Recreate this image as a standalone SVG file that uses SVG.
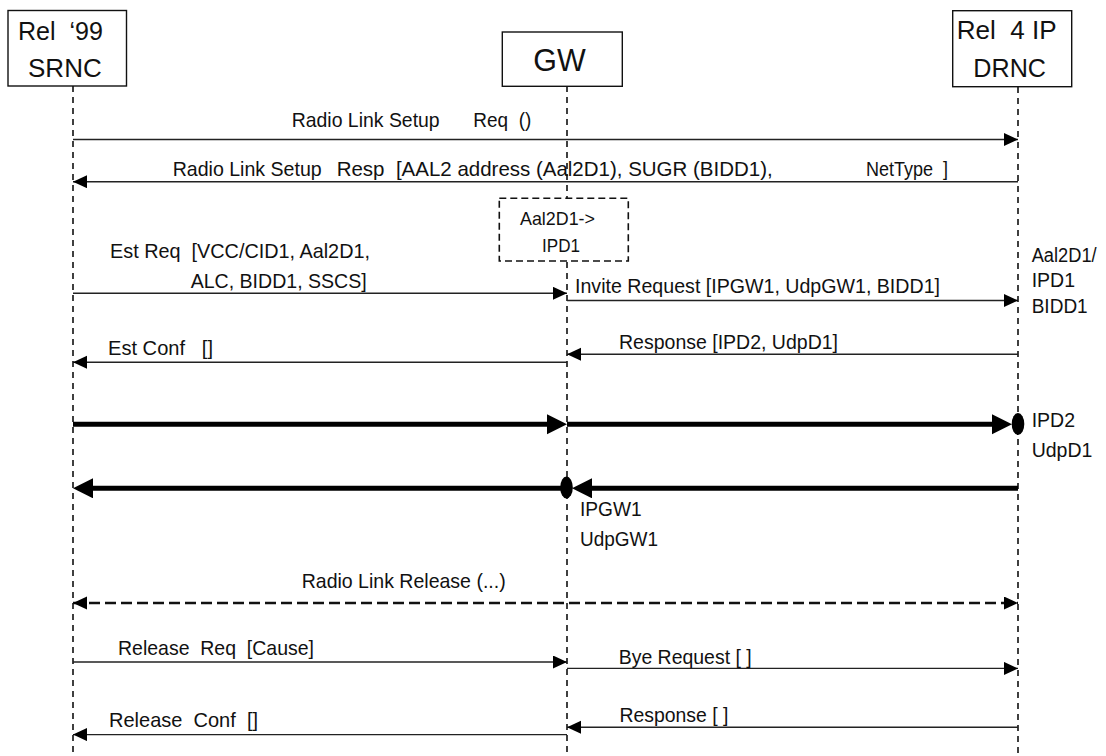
<svg xmlns="http://www.w3.org/2000/svg" width="1106" height="756" viewBox="0 0 1106 756">
<style>
text{font-family:"Liberation Sans",Arial,sans-serif;fill:#111;white-space:pre}
.hd{font-size:25.5px}
.gw{font-size:30.5px}
.msg{font-size:20.6px}
.lab{font-size:19.5px}
.bx{font-size:18.5px}
.box{fill:#fff;stroke:#111;stroke-width:1.4}
.dbox{fill:#fff;stroke:#111;stroke-width:1.6;stroke-dasharray:7 4}
.life{stroke:#111;stroke-width:1.6;stroke-dasharray:6 5;fill:none}
.thin{stroke:#222;stroke-width:1.4;fill:none;marker-end:url(#ah)}
.thick{stroke:#000;stroke-width:5;fill:none;marker-end:url(#ahT)}
.dash{stroke:#111;stroke-width:2.6;stroke-dasharray:11 5;fill:none;marker-end:url(#ah);marker-start:url(#ah)}
</style>
<defs>
<marker id="ah" markerUnits="userSpaceOnUse" markerWidth="16" markerHeight="14" refX="14" refY="6.5" orient="auto-start-reverse" viewBox="0 0 16 14">
<path d="M0,0 L14,6.5 L0,13 z" fill="#000"/>
</marker>
<marker id="ahT" markerUnits="userSpaceOnUse" markerWidth="22" markerHeight="22" refX="10" refY="10" orient="auto" viewBox="0 0 22 22">
<path d="M0,0 L20,10 L0,20 z" fill="#000"/>
</marker>
</defs>

<g id="lifelines">
<line class="life" x1="73" y1="86" x2="73" y2="756"/>
<line class="life" x1="567" y1="86" x2="567" y2="756"/>
<line class="life" x1="1018" y1="87" x2="1018" y2="756"/>
</g>

<g id="node-srnc">
<rect class="box" x="8" y="10.5" width="118.5" height="75.5"/>
<text class="hd" x="18" y="40" textLength="85" lengthAdjust="spacingAndGlyphs">Rel  ‘99</text>
<text class="hd" x="28" y="76.7" textLength="73.7" lengthAdjust="spacingAndGlyphs">SRNC</text>
</g>

<g id="node-gw">
<rect class="box" x="502.3" y="32" width="120" height="54.3"/>
<text class="gw" x="533.3" y="70.7" textLength="52.4" lengthAdjust="spacingAndGlyphs">GW</text>
</g>

<g id="node-drnc">
<rect class="box" x="952.7" y="10.7" width="119" height="76"/>
<text class="hd" x="956.7" y="39.3" textLength="100" lengthAdjust="spacingAndGlyphs">Rel  4 IP</text>
<text class="hd" x="973.3" y="77.3" textLength="72.7" lengthAdjust="spacingAndGlyphs">DRNC</text>
</g>

<g id="node-mapping">
<rect class="dbox" x="499.3" y="198.3" width="129" height="62.7"/>
<text class="bx" x="520" y="225" textLength="75" lengthAdjust="spacingAndGlyphs">Aal2D1-&gt;</text>
<text class="bx" x="542" y="251.7" textLength="38" lengthAdjust="spacingAndGlyphs">IPD1</text>
</g>

<g id="connectors">
<line class="thin" x1="73" y1="139.5" x2="1018" y2="139.5"/>
<line class="thin" x1="1018" y1="181.7" x2="73" y2="181.7"/>
<line class="thin" x1="73" y1="293.3" x2="567" y2="293.3"/>
<line class="thin" x1="567" y1="300.5" x2="1018" y2="300.5"/>
<line class="thin" x1="1018" y1="354.3" x2="567" y2="354.3"/>
<line class="thin" x1="567" y1="362.3" x2="73" y2="362.3"/>

<line class="thick" x1="73" y1="424.3" x2="557" y2="424.3"/>
<line class="thick" x1="567" y1="424.3" x2="1002" y2="424.3"/>
<ellipse cx="1018" cy="424" rx="6.3" ry="11" fill="#000"/>

<line class="thick" x1="1018" y1="488.3" x2="582" y2="488.3"/>
<ellipse cx="566.5" cy="487.5" rx="6.3" ry="11" fill="#000"/>
<line class="thick" x1="567" y1="488.3" x2="83" y2="488.3"/>

<line class="dash" x1="73" y1="603" x2="1018" y2="603"/>

<line class="thin" x1="73" y1="662" x2="567" y2="662"/>
<line class="thin" x1="567" y1="668.4" x2="1018" y2="668.4"/>
<line class="thin" x1="1018" y1="727.3" x2="567" y2="727.3"/>
<line class="thin" x1="567" y1="734.6" x2="73" y2="734.6"/>
</g>

<g id="labels">
<text class="msg" x="291.7" y="126.5" textLength="148" lengthAdjust="spacingAndGlyphs">Radio Link Setup</text>
<text class="msg" x="473.3" y="126.5" textLength="58" lengthAdjust="spacingAndGlyphs">Req  ()</text>

<text class="msg" x="172.7" y="175.5" textLength="149" lengthAdjust="spacingAndGlyphs">Radio Link Setup</text>
<text class="msg" x="336.7" y="175.5" textLength="436" lengthAdjust="spacingAndGlyphs">Resp  [AAL2 address (Aal2D1), SUGR (BIDD1),</text>
<text class="msg" x="866" y="175.5" textLength="82" lengthAdjust="spacingAndGlyphs">NetType  ]</text>

<text class="msg" x="110" y="258" textLength="260" lengthAdjust="spacingAndGlyphs">Est Req  [VCC/CID1, Aal2D1,</text>
<text class="msg" x="190.7" y="288" textLength="176" lengthAdjust="spacingAndGlyphs">ALC, BIDD1, SSCS]</text>

<text class="msg" x="575" y="293" textLength="365" lengthAdjust="spacingAndGlyphs">Invite Request [IPGW1, UdpGW1, BIDD1]</text>

<text class="lab" x="1031.7" y="261.7" textLength="65" lengthAdjust="spacingAndGlyphs">Aal2D1/</text>
<text class="lab" x="1031.7" y="287.3">IPD1</text>
<text class="lab" x="1031.7" y="313.3" textLength="56" lengthAdjust="spacingAndGlyphs">BIDD1</text>

<text class="msg" x="619" y="349" textLength="219" lengthAdjust="spacingAndGlyphs">Response [IPD2, UdpD1]</text>
<text class="msg" x="108" y="355" textLength="105" lengthAdjust="spacingAndGlyphs">Est Conf   []</text>

<text class="lab" x="1031.7" y="427.3">IPD2</text>
<text class="lab" x="1031.7" y="457.3">UdpD1</text>
<text class="lab" x="580" y="515.7" textLength="61.7" lengthAdjust="spacingAndGlyphs">IPGW1</text>
<text class="lab" x="580" y="545.7" textLength="78" lengthAdjust="spacingAndGlyphs">UdpGW1</text>

<text class="msg" x="301.7" y="588" textLength="204" lengthAdjust="spacingAndGlyphs">Radio Link Release (...)</text>

<text class="msg" x="118" y="655" textLength="196" lengthAdjust="spacingAndGlyphs">Release  Req  [Cause]</text>
<text class="msg" x="618.7" y="663.8" textLength="133" lengthAdjust="spacingAndGlyphs">Bye Request [ ]</text>
<text class="msg" x="619.4" y="721.5" textLength="109" lengthAdjust="spacingAndGlyphs">Response [ ]</text>
<text class="msg" x="109" y="727" textLength="149" lengthAdjust="spacingAndGlyphs">Release  Conf  []</text>
</g>
</svg>
